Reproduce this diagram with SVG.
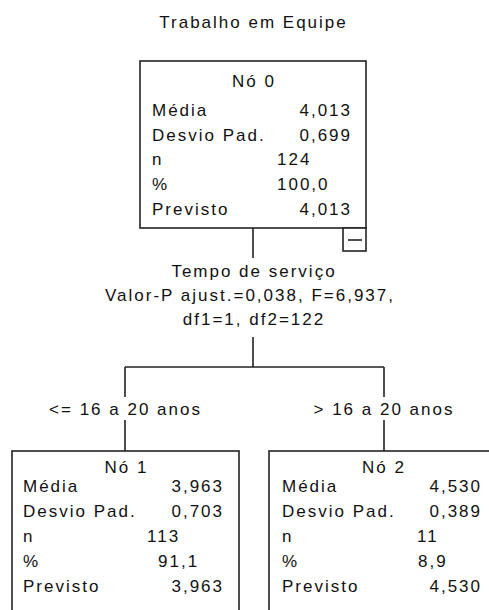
<svg xmlns="http://www.w3.org/2000/svg" width="489" height="610" viewBox="0 0 489 610">
<style>
text{font-family:"Liberation Sans",Arial,sans-serif;font-size:17px;letter-spacing:2px;fill:#111}
.c{text-anchor:middle}
.r{text-anchor:end}
.box{fill:#fff;stroke:#222;stroke-width:1.6}
.ln{stroke:#222;stroke-width:1.6;fill:none}
</style>
<rect width="489" height="610" fill="#fff"/>
<text class="c" x="253.5" y="28">Trabalho em Equipe</text>
<g id="connectors">
<path class="ln" d="M253 228V258M253 337V367M125 367H384M125 367V397M125 420V451M384 367V397M384 420V451"/>
</g>
<g id="node0">
<rect class="box" x="140" y="61" width="226" height="167"/>
<text class="c" x="254" y="87">Nó 0</text>
<text x="152" y="116">Média</text><text class="r" x="352" y="116">4,013</text>
<text x="152" y="141">Desvio Pad.</text><text class="r" x="352" y="141">0,699</text>
<text x="152" y="165">n</text><text x="277" y="165">124</text>
<text x="152" y="190">%</text><text x="277" y="190">100,0</text>
<text x="152" y="215">Previsto</text><text class="r" x="352" y="215">4,013</text>
<rect class="box" x="343" y="228" width="23" height="23"/>
<path class="ln" d="M348 240H362"/>
</g>
<g id="split">
<text class="c" x="254" y="277">Tempo de serviço</text>
<text class="c" x="250" y="301">Valor-P ajust.=0,038, F=6,937,</text>
<text class="c" x="254" y="325">df1=1, df2=122</text>
</g>
<g id="edge-labels">
<text class="c" x="125.5" y="415">&lt;= 16 a 20 anos</text>
<text class="c" x="384" y="415">&gt; 16 a 20 anos</text>
</g>
<g id="node1">
<rect class="box" x="12" y="451" width="227" height="175"/>
<text class="c" x="126.5" y="473">Nó 1</text>
<text x="23" y="492">Média</text><text class="r" x="224" y="492">3,963</text>
<text x="23" y="517">Desvio Pad.</text><text class="r" x="224" y="517">0,703</text>
<text x="23" y="542">n</text><text x="147" y="542">113</text>
<text x="23" y="567">%</text><text x="158" y="567">91,1</text>
<text x="23" y="592">Previsto</text><text class="r" x="224" y="592">3,963</text>
</g>
<g id="node2">
<rect class="box" x="269" y="451" width="228" height="175"/>
<text class="c" x="384" y="473">Nó 2</text>
<text x="282" y="492">Média</text><text class="r" x="482" y="492">4,530</text>
<text x="282" y="517">Desvio Pad.</text><text class="r" x="482" y="517">0,389</text>
<text x="282" y="542">n</text><text x="417" y="542">11</text>
<text x="282" y="567">%</text><text x="418" y="567">8,9</text>
<text x="282" y="592">Previsto</text><text class="r" x="482" y="592">4,530</text>
</g>
</svg>
